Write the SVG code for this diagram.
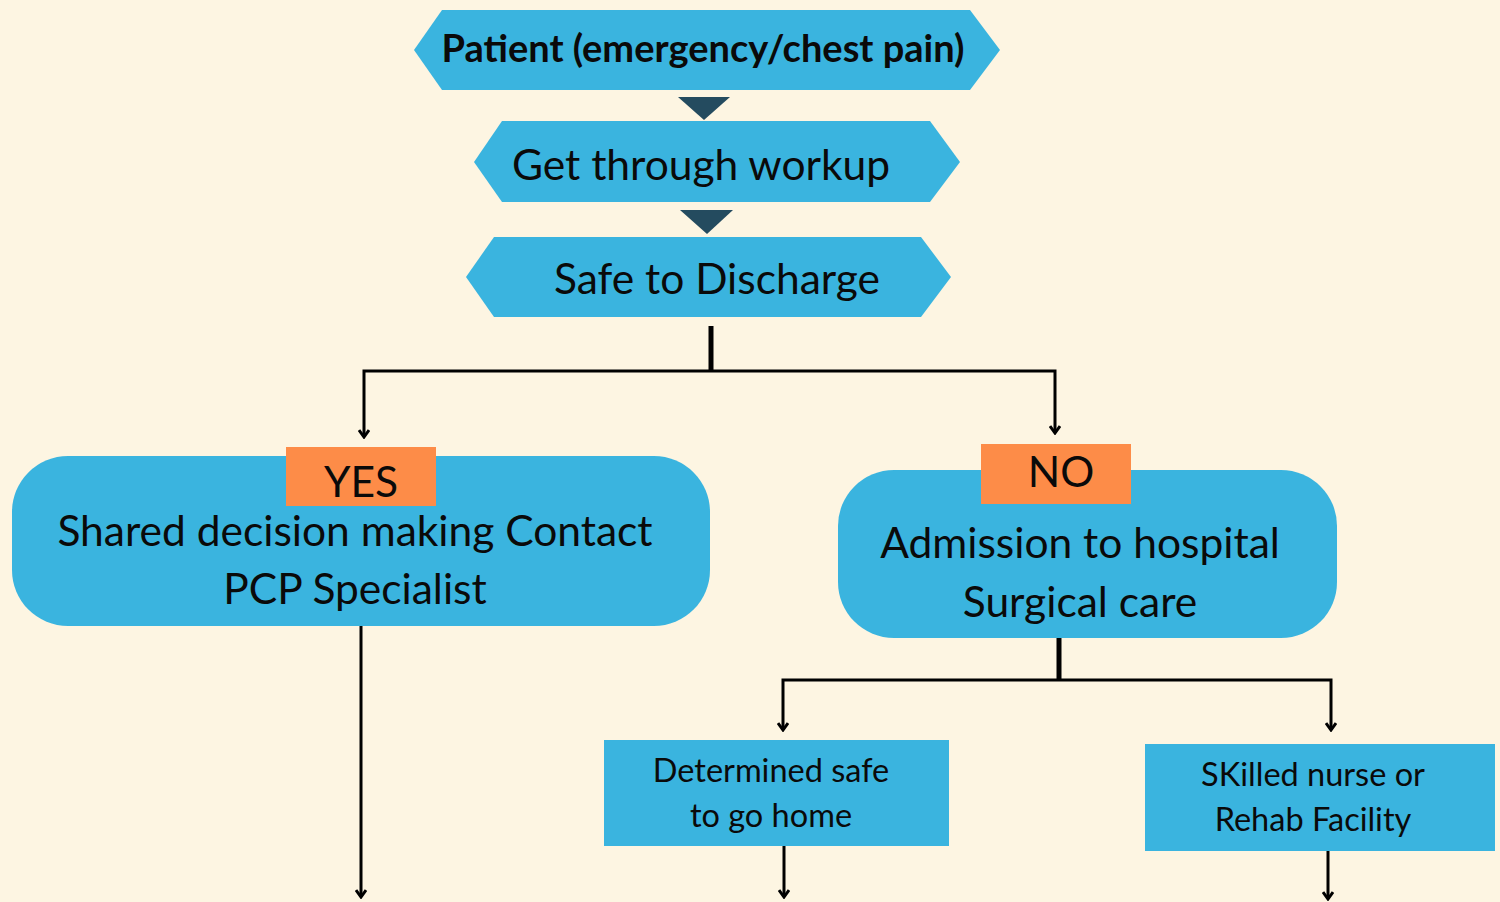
<svg xmlns="http://www.w3.org/2000/svg" width="1500" height="902" viewBox="0 0 1500 902">
<defs>
<style>
.bg{fill:#FDF5E2}
.blue{fill:#3AB4DF}
.orange{fill:#FD8C48}
.tri{fill:#244B5F}
.t{font-family:Lato,"Liberation Sans",sans-serif;fill:#0A0A0A;text-anchor:middle}
.big{font-size:42.5px}
.small{font-size:32.5px}
.ln{stroke:#000;stroke-width:3;fill:none}
.thick{stroke:#000;stroke-width:5;fill:none}
</style>
<marker id="arr" viewBox="0 0 10 12" refX="8" refY="6" markerWidth="10" markerHeight="12" markerUnits="userSpaceOnUse" orient="auto-start-reverse">
<path d="M1,1 L8,6 L1,11" stroke="#000" stroke-width="3" fill="none"/>
</marker>
</defs>
<rect class="bg" x="0" y="0" width="1500" height="902"/>

<g id="connectors">
<polygon class="tri" points="678,97 730,97 704,120"/>
<polygon class="tri" points="680,210 733,210 707,234"/>
<line class="thick" x1="711" y1="326" x2="711" y2="372"/>
<polyline class="ln" points="364,437 364,371 1055,371 1055,433" marker-start="url(#arr)" marker-end="url(#arr)"/>
<line class="ln" x1="361" y1="626" x2="361" y2="897" marker-end="url(#arr)"/>
<line class="thick" x1="1059" y1="638" x2="1059" y2="681"/>
<polyline class="ln" points="783,730 783,680 1331,680 1331,730" marker-start="url(#arr)" marker-end="url(#arr)"/>
<line class="ln" x1="784" y1="846" x2="784" y2="897" marker-end="url(#arr)"/>
<line class="ln" x1="1328" y1="851" x2="1328" y2="899" marker-end="url(#arr)"/>
</g>

<g id="patient">
<polygon class="blue" points="414,50 442,10 970,10 1000,50 970,90 442,90"/>
<text class="t" x="703" y="62" font-size="38" font-weight="bold">Patient (emergency/chest pain)</text>
</g>

<g id="workup">
<polygon class="blue" points="474,162 502,121 930,121 960,162 930,202 502,202"/>
<text class="t big" x="701" y="180">Get through workup</text>
</g>

<g id="discharge">
<polygon class="blue" points="466,277 494,237 921,237 951,277 921,317 494,317"/>
<text class="t big" x="717" y="294">Safe to Discharge</text>
</g>

<g id="yes">
<rect class="blue" x="12" y="456" width="698" height="170" rx="56"/>
<rect class="orange" x="286" y="447" width="150" height="59"/>
<text class="t big" x="361" y="497">YES</text>
<text class="t big" x="355" y="546">Shared decision making Contact</text>
<text class="t big" x="355" y="604">PCP Specialist</text>
</g>

<g id="no">
<rect class="blue" x="838" y="470" width="499" height="168" rx="56"/>
<rect class="orange" x="981" y="444" width="150" height="60"/>
<text class="t big" x="1061" y="487">NO</text>
<text class="t big" x="1080" y="558">Admission to hospital</text>
<text class="t big" x="1080" y="617">Surgical care</text>
</g>

<g id="home">
<rect class="blue" x="604" y="740" width="345" height="106"/>
<text class="t small" x="771" y="782">Determined safe</text>
<text class="t small" x="771" y="827">to go home</text>
</g>

<g id="rehab">
<rect class="blue" x="1145" y="744" width="350" height="107"/>
<text class="t small" x="1313" y="786">SKilled nurse or</text>
<text class="t small" x="1313" y="831">Rehab Facility</text>
</g>
</svg>
